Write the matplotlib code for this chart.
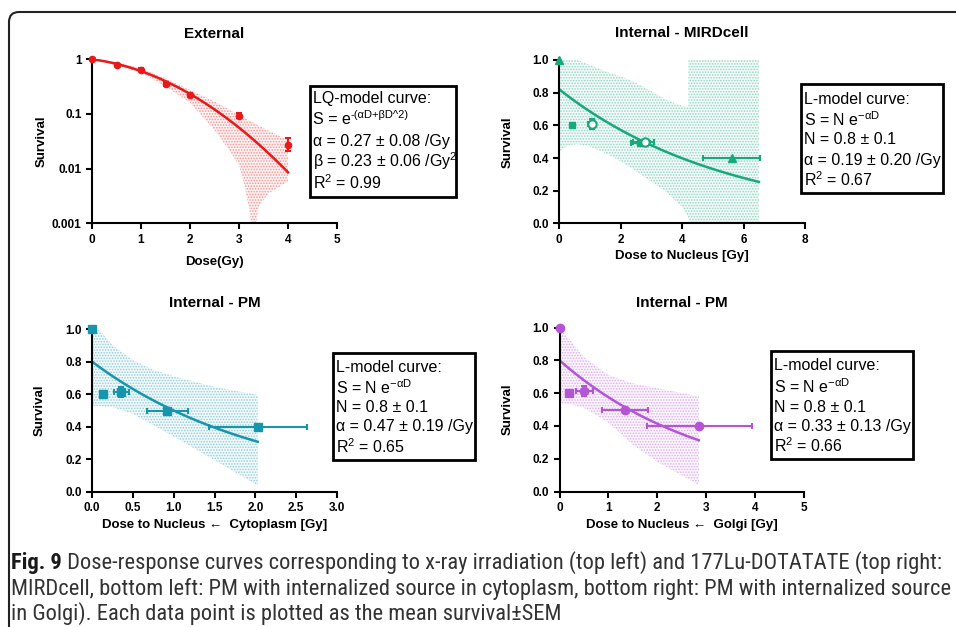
import numpy as np
import matplotlib.pyplot as plt
from matplotlib.patches import FancyBboxPatch, Rectangle

plt.rcParams['font.family'] = ['Liberation Sans', 'DejaVu Sans']
plt.rcParams['mathtext.fontset'] = 'custom'
plt.rcParams['mathtext.rm'] = 'Liberation Sans'
plt.rcParams['mathtext.default'] = 'regular'
plt.rcParams['hatch.linewidth'] = 0.8

W, H = 956, 627

# ---- External (x-ray), LQ model ----
ext_dose = [0, 0.5, 1, 1.5, 2, 3, 4]
ext_surv = [1.0, 0.80, 0.64, 0.354, 0.223, 0.092, 0.027]
ext_err_lo = [0.0, 0.03, 0.03, 0.03, 0.015, 0.008, 0.006]
ext_err_hi = [0.0, 0.03, 0.04, 0.03, 0.02, 0.01, 0.009]
ext_alpha, ext_beta = 0.27, 0.23
ext_hi_x = [0, 0.5, 1, 1.5, 2, 2.5, 3, 3.5, 4]
ext_hi = [1.0, 0.87, 0.69, 0.45, 0.275, 0.17, 0.096, 0.055, 0.033]
ext_lo_x = [0, 0.5, 1, 1.5, 2, 2.5, 2.75, 3, 3.1, 3.2, 3.3, 3.4, 3.6, 4]
ext_lo = [1.0, 0.78, 0.57, 0.32, 0.16, 0.051, 0.025, 0.0117, 0.0054, 0.002,
          0.0005, 0.002, 0.0035, 0.0058]

# ---- Internal - MIRDcell ----
mird_tri_dose = [0, 5.62]
mird_tri_surv = [1.0, 0.40]
mird_tri_dlo = [0, 0.95]
mird_tri_dhi = [0, 0.93]
mird_sq_dose = [0.42, 2.62]
mird_sq_surv = [0.60, 0.49]
mird_sq_dlo = [0.03, 0.30]
mird_sq_dhi = [0.03, 0.33]
mird_ci_dose = [1.05, 2.78]
mird_ci_surv = [0.61, 0.50]
mird_ci_dlo = [0.10, 0.38]
mird_ci_dhi = [0.10, 0.29]
mird_ci_serr = [0.03, 0.01]
mird_N, mird_alpha, mird_dmax = 0.82, 0.18, 6.5
mird_hi_x = [0, 0.6, 1, 1.5, 2, 2.5, 3, 3.5, 4, 4.2, 4.2, 6.5]
mird_hi = [1.0, 1.0, 0.97, 0.93, 0.9, 0.86, 0.81, 0.755, 0.72, 0.71, 1.0, 1.0]
mird_lo_x = [0, 0.3, 0.6, 1, 1.5, 2, 2.5, 3, 3.5, 4, 4.3, 6.5]
mird_lo = [0.44, 0.48, 0.485, 0.47, 0.43, 0.38, 0.32, 0.255, 0.19, 0.10, 0.0, 0.0]

# ---- Internal - PM, source in cytoplasm ----
cyto_dose = [0, 0.14, 0.35, 0.92, 2.03]
cyto_surv = [1.0, 0.60, 0.612, 0.495, 0.40]
cyto_dlo = [0, 0.02, 0.08, 0.25, 0.60]
cyto_dhi = [0, 0.02, 0.10, 0.25, 0.60]
cyto_serr = [0.005, 0.01, 0.03, 0.01, 0.005]
cyto_N, cyto_alpha, cyto_dmax = 0.80, 0.47, 2.03
cyto_hi_x = [0, 0.1, 0.25, 0.5, 0.75, 1.0, 1.5, 2.03]
cyto_hi = [1.0, 0.99, 0.9, 0.81, 0.75, 0.71, 0.645, 0.595]
cyto_lo_x = [0, 0.25, 0.5, 0.75, 1.0, 1.5, 2.03]
cyto_lo = [0.53, 0.52, 0.48, 0.41, 0.34, 0.195, 0.04]

# ---- Internal - PM, source in Golgi ----
golgi_dose = [0, 0.5, 1.34, 2.85]
golgi_surv = [1.0, 0.612, 0.495, 0.40]
golgi_dlo = [0, 0.17, 0.48, 1.07]
golgi_dhi = [0, 0.18, 0.48, 1.08]
golgi_serr = [0.01, 0.03, 0.01, 0.005]
golgi_sq_dose = [0.2]
golgi_sq_surv = [0.60]
golgi_N, golgi_alpha, golgi_dmax = 0.80, 0.33, 2.85
golgi_hi_x = [0, 0.25, 0.5, 1, 1.5, 2, 2.85]
golgi_hi = [1.0, 0.91, 0.82, 0.71, 0.66, 0.63, 0.58]
golgi_lo_x = [0, 0.25, 0.5, 1, 1.5, 2, 2.85]
golgi_lo = [0.54, 0.53, 0.51, 0.42, 0.285, 0.18, 0.04]

RED = '#e8191b'
GREEN = '#17a87b'
TEAL = '#1696ad'
PURPLE = '#b455d6'

fig = plt.figure(figsize=(W / 100, H / 100), dpi=100)
bg = fig.add_axes([0, 0, 1, 1])
bg.set_xlim(0, W)
bg.set_ylim(H, 0)
bg.axis('off')

# rounded frame, open to the right and bottom
bg.add_patch(FancyBboxPatch((9, 12), 1100, 800, boxstyle='round,pad=0,rounding_size=10',
                            fill=False, lw=1.5, ec='#222222'))


def px_axes(left, right, top, bottom):
    ax = fig.add_axes([left / W, 1 - bottom / H, (right - left) / W, (bottom - top) / H])
    ax.patch.set_visible(False)
    for s in ('top', 'right'):
        ax.spines[s].set_visible(False)
    for s in ('left', 'bottom'):
        ax.spines[s].set_linewidth(1.5)
    ax.tick_params(direction='out', length=4, width=1.5)
    ax._px = (left, right, top, bottom)
    return ax


def labels(ax, title, xlabel, ylabel, title_y, xlabel_y, ylabel_x):
    left, right, top, bottom = ax._px
    cx = (left + right) / 2
    bg.text(cx, title_y, title, ha='center', va='center', fontsize=11, fontweight='bold')
    ax.set_xlabel(xlabel, fontsize=9.5, fontweight='bold', va='center')
    ax.xaxis.set_label_coords(0.5, (bottom - xlabel_y) / (bottom - top))
    ax.set_ylabel(ylabel, fontsize=9.5, fontweight='bold', va='center')
    ax.yaxis.set_label_coords((ylabel_x - left) / (right - left), 0.5)


def ticks(ax, xt, xl, yt, yl):
    ax.set_xticks(xt, labels=xl, fontsize=8.5, fontweight='bold')
    ax.set_yticks(yt, labels=yl, fontsize=8.5, fontweight='bold')
    ax.minorticks_off()


def band(ax, hx, hy, lx, ly, color):
    px = np.concatenate([hx, lx[::-1]])
    py = np.concatenate([hy, ly[::-1]])
    ax.fill(px, py, facecolor=color, alpha=0.05, lw=0)
    ax.fill(px, py, facecolor='none', edgecolor=color, hatch='......', lw=0, alpha=0.4)


def info_box(left, right, top, bottom, lines, x0, ys):
    bg.add_patch(Rectangle((left, top), right - left, bottom - top, fill=False, lw=2, ec='black'))
    out = []
    for s, y in zip(lines, ys):
        out.append(bg.text(x0, y, s, ha='left', va='center', fontsize=11.5))
    return out


# ---------- panel 1: External ----------
ax1 = px_axes(92, 337, 59.3, 223.3)
ax1.set_yscale('log')
band(ax1, np.array(ext_hi_x), np.array(ext_hi), np.array(ext_lo_x), np.array(ext_lo), RED)
d = np.linspace(0, 4, 100)
ax1.plot(d, np.exp(-(ext_alpha * d + ext_beta * d ** 2)), color=RED, lw=1.8)
ax1.errorbar(ext_dose, ext_surv, yerr=[ext_err_lo, ext_err_hi], fmt='o', ms=4.5, color=RED,
             capsize=2.5, elinewidth=1.5, capthick=1.5, clip_on=False, zorder=5)
ax1.set_xlim(0, 5)
ax1.set_ylim(0.001, 1)
ticks(ax1, range(6), [str(i) for i in range(6)], [0.001, 0.01, 0.1, 1], ['0.001', '0.01', '0.1', '1'])
labels(ax1, 'External', 'Dose(Gy)', 'Survival', 34, 262, 42)

t = info_box(310, 456, 86, 197, ['LQ-model curve:', 'S = e', u'\u03b1 = 0.27 \u00b1 0.08 /Gy',
                                 u'\u03b2 = 0.23 \u00b1 0.06 /Gy$^2$', 'R$^2$ = 0.99'],
             313, [99, 120, 141.5, 161, 183])
bg.annotate(u'-(\u03b1D+\u03b2D^2)', xy=(1, 0.5), xycoords=t[1], fontsize=8, va='bottom', ha='left')

# ---------- panel 2: MIRDcell ----------
ax2 = px_axes(559.3, 805, 60, 223.5)
band(ax2, np.array(mird_hi_x), np.array(mird_hi), np.array(mird_lo_x), np.array(mird_lo), GREEN)
d = np.linspace(0, mird_dmax, 100)
ax2.plot(d, mird_N * np.exp(-mird_alpha * d), color=GREEN, lw=1.8)
kw = dict(color=GREEN, capsize=2.5, elinewidth=1.5, capthick=1.5, clip_on=False, zorder=5)
ax2.errorbar(mird_tri_dose, mird_tri_surv, xerr=[mird_tri_dlo, mird_tri_dhi], fmt='^', ms=5.5, **kw)
ax2.errorbar(mird_sq_dose, mird_sq_surv, xerr=[mird_sq_dlo, mird_sq_dhi], fmt='s', ms=5, **kw)
ax2.errorbar(mird_ci_dose, mird_ci_surv, xerr=[mird_ci_dlo, mird_ci_dhi], yerr=mird_ci_serr,
             fmt='o', ms=6, mfc='white', mew=1.5, **kw)
ax2.set_xlim(0, 8)
ax2.set_ylim(0, 1)
yt = [0, 0.2, 0.4, 0.6, 0.8, 1.0]
ytl = ['%.1f' % v for v in yt]
ticks(ax2, [0, 2, 4, 6, 8], ['0', '2', '4', '6', '8'], yt, ytl)
labels(ax2, 'Internal - MIRDcell', 'Dose to Nucleus [Gy]', 'Survival', 33, 256, 508)

info_box(801, 943, 84, 193, ['L-model curve:', r'S = N e$^{-\alpha D}$', u'N = 0.8 \u00b1 0.1',
                             u'\u03b1 = 0.19 \u00b1 0.20 /Gy', 'R$^2$ = 0.67'],
         804, [100, 120, 139.5, 160, 180])

# ---------- panel 3: PM cytoplasm ----------
ax3 = px_axes(92, 337, 329, 492)
band(ax3, np.array(cyto_hi_x), np.array(cyto_hi), np.array(cyto_lo_x), np.array(cyto_lo), TEAL)
d = np.linspace(0, cyto_dmax, 100)
ax3.plot(d, cyto_N * np.exp(-cyto_alpha * d), color=TEAL, lw=1.8)
ax3.errorbar(cyto_dose, cyto_surv, xerr=[cyto_dlo, cyto_dhi], yerr=cyto_serr, fmt='s', ms=6,
             color=TEAL, capsize=2.5, elinewidth=1.5, capthick=1.5, clip_on=False, zorder=5)
ax3.set_xlim(0, 3)
ax3.set_ylim(0, 1)
xt = [0, 0.5, 1.0, 1.5, 2.0, 2.5, 3.0]
ticks(ax3, xt, ['%.1f' % v for v in xt], yt, ytl)
labels(ax3, 'Internal - PM', u'Dose to Nucleus \u2190  Cytoplasm [Gy]', 'Survival', 303, 525, 40)

info_box(333, 475, 353, 460, ['L-model curve:', r'S = N e$^{-\alpha D}$', u'N = 0.8 \u00b1 0.1',
                              u'\u03b1 = 0.47 \u00b1 0.19 /Gy', 'R$^2$ = 0.65'],
         336, [367, 387.5, 408, 427, 447])

# ---------- panel 4: PM Golgi ----------
ax4 = px_axes(559.5, 804, 327.5, 491.5)
band(ax4, np.array(golgi_hi_x), np.array(golgi_hi), np.array(golgi_lo_x), np.array(golgi_lo), PURPLE)
d = np.linspace(0, golgi_dmax, 100)
ax4.plot(d, golgi_N * np.exp(-golgi_alpha * d), color=PURPLE, lw=1.8)
kw = dict(color=PURPLE, capsize=2.5, elinewidth=1.5, capthick=1.5, clip_on=False, zorder=5)
ax4.errorbar(golgi_dose, golgi_surv, xerr=[golgi_dlo, golgi_dhi], yerr=golgi_serr, fmt='o', ms=6, **kw)
ax4.errorbar(golgi_sq_dose, golgi_sq_surv, fmt='s', ms=5.5, **kw)
ax4.set_xlim(0, 5)
ax4.set_ylim(0, 1)
ticks(ax4, range(6), [str(i) for i in range(6)], yt, ytl)
labels(ax4, 'Internal - PM', u'Dose to Nucleus \u2190  Golgi [Gy]', 'Survival', 303, 525, 508)

info_box(771, 913, 351, 459, ['L-model curve:', r'S = N e$^{-\alpha D}$', u'N = 0.8 \u00b1 0.1',
                              u'\u03b1 = 0.33 \u00b1 0.13 /Gy', 'R$^2$ = 0.66'],
         774, [366, 387, 407, 426, 446])

# ---------- caption ----------
cap_font = ['Roboto Condensed', 'Open Sans', 'DejaVu Sans']
cap1 = ' Dose-response curves corresponding to x-ray irradiation (top left) and 177Lu-DOTATATE (top right:'
cap2 = 'MIRDcell, bottom left: PM with internalized source in cytoplasm, bottom right: PM with internalized source'
cap3 = 'in Golgi). Each data point is plotted as the mean survival\u00b1SEM'
fig_lbl = bg.text(11, 563, 'Fig. 9', fontsize=12, fontweight='bold', family=cap_font,
                  va='center', ha='left', color='#1a1a1a')
c1 = bg.annotate(cap1, xy=(1, 0.5), xycoords=fig_lbl, fontsize=12, family=cap_font,
                 va='center', ha='left', color='#333333')
c2 = bg.text(11, 589, cap2, fontsize=12, family=cap_font, va='center', ha='left', color='#333333')
c3 = bg.text(11, 614, cap3, fontsize=12, family=cap_font, va='center', ha='left', color='#333333')

# fit the caption width to the frame (second line spans the full width)
r = fig.canvas.get_renderer()
scale = 936 / c2.get_window_extent(r).width
for c in (fig_lbl, c1, c2, c3):
    c.set_fontsize(12 * scale)

fig.savefig('out.png', dpi=100)
